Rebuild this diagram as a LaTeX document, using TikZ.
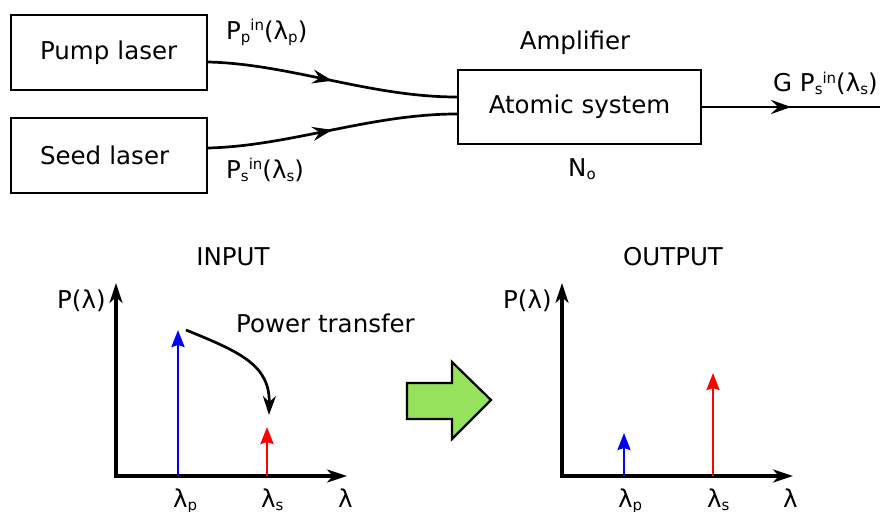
\documentclass[tikz,border=0pt]{standalone}
\usepackage{fontspec}
\setmainfont{DejaVu Sans}
\usetikzlibrary{arrows.meta,decorations.markings,calc}
\definecolor{arrowgreen}{RGB}{150,226,92}
\newcommand\lo[1]{\raisebox{-3pt}{\fontsize{15}{15}\selectfont #1}}
\newcommand\hi[1]{\raisebox{8.5pt}{\fontsize{15}{15}\selectfont #1}}
\begin{document}
\begin{tikzpicture}[x=1pt,y=-1pt,
  every node/.style={font=\fontsize{24.5}{28}\selectfont, inner sep=0pt},
  box/.style={draw, line width=2.2pt},
  lbox/.style={box, minimum width=196pt, minimum height=75pt, text width=138pt, align=left, inner xsep=29pt},
  conn/.style={line width=2.7pt},
  midarrow/.style={postaction={decorate}, decoration={markings, mark=at position 0.5 with {\arrow{Stealth[length=20pt,width=14pt,inset=7pt]}}}},
  axis/.style={line width=3.2pt, {Stealth[length=20pt,width=13pt,inset=6pt]}-{Stealth[length=20pt,width=13pt,inset=6pt]}},
  spike/.style={line width=2.8pt, -{Stealth[length=17pt,width=13pt,inset=2pt]}},
]
\path[use as bounding box] (0,0) rectangle (880,511);

% top block diagram
\node[lbox] (pump) at (109,52.5) {Pump laser};
\node[lbox] (seed) at (109,155.5) {Seed laser};
\node[box, minimum width=243pt, minimum height=74pt] (atom) at (579.5,107) {Atomic system};
\node[anchor=base] (amp) at (575,49.3) {Amplifier};
\node[anchor=base west] (no) at (568,176) {N\lo{o}};
\node[anchor=base west] (lpp) at (226,39.3) {P\lo{p}\hi{in}(λ\lo{p})};
\node[anchor=base west] (lps) at (226,178) {P\lo{s}\hi{in}(λ\lo{s})};
\node[anchor=base west] (lg) at (773,91.7) {G P\lo{s}\hi{in}(λ\lo{s})};
\coordinate (outend) at (880,107);

\draw[conn, midarrow] ($(pump.east)+(0,9.5)$) .. controls (290,64) and (370,97) .. ($(atom.west)+(0,-10)$);
\draw[conn, midarrow] ($(seed.east)+(0,-7.5)$) .. controls (290,146) and (370,114) .. ($(atom.west)+(0,7)$);
\draw[conn, midarrow] (atom.east) -- (outend);

% input spectrum
\node[anchor=base] (tin) at (233,265) {INPUT};
\node[anchor=base west] (pin) at (57,308) {P(λ)};
\coordinate (o1) at (116,476);
\coordinate (y1) at (116,283);
\coordinate (x1) at (347,476);
\draw[axis] (y1) -- (o1) -- (x1);
\coordinate (bp0) at (178,476);
\coordinate (bp1) at (178,330);
\coordinate (rs0) at (267,476);
\coordinate (rs1) at (267,427);
\draw[spike, blue] (bp0) -- (bp1);
\draw[spike, red] (rs0) -- (rs1);
\node[anchor=base west] (ptr) at (236,332.7) {Power transfer};
\coordinate (pt1) at (186,330);
\coordinate (pt2) at (269,415);
\draw[conn, -{Stealth[length=19pt,width=13pt,inset=6pt]}] (pt1) .. controls (240,352) and (270,365) .. (pt2);
\node[anchor=base west] (lp1) at (173,507) {λ\lo{p}};
\node[anchor=base west] (ls1) at (261,507) {λ\lo{s}};
\node[anchor=base west] (l1) at (338,507) {λ};

% green arrow
\draw[fill=arrowgreen, line width=2.2pt, line join=miter] (407,383) -- (452,383) -- (452,362) -- (491,400) -- (452,439) -- (452,419) -- (407,419) -- cycle;

% output spectrum
\node[anchor=base] (tout) at (673,265) {OUTPUT};
\node[anchor=base west] (pout) at (503,308) {P(λ)};
\coordinate (o2) at (562,476);
\coordinate (y2) at (562,283);
\coordinate (x2) at (793,476);
\draw[axis] (y2) -- (o2) -- (x2);
\coordinate (bp2) at (624,476);
\coordinate (bp3) at (624,433);
\coordinate (rs2) at (713,476);
\coordinate (rs3) at (713,373);
\draw[spike, blue] (bp2) -- (bp3);
\draw[spike, red] (rs2) -- (rs3);
\node[anchor=base west] (lp2) at (618,507) {λ\lo{p}};
\node[anchor=base west] (ls2) at (707,507) {λ\lo{s}};
\node[anchor=base west] (l2) at (783,507) {λ};
\end{tikzpicture}
\end{document}
